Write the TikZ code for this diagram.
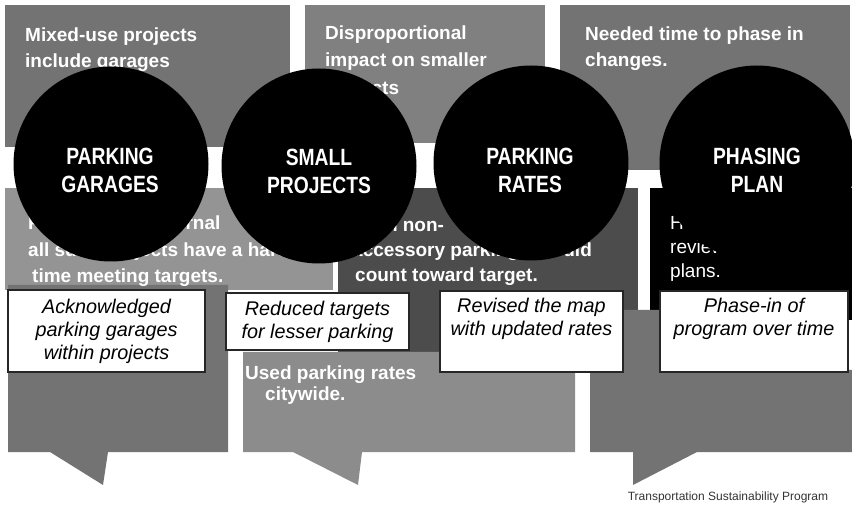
\documentclass[tikz,border=0pt]{standalone}
\usepackage{fontspec}
\setmainfont{Liberation Sans}
\newfontfamily\condfont{Liberation Sans}[FakeStretch=0.82]
\begin{document}
\begin{tikzpicture}[x=1pt,y=-1pt,
  ptext/.style={text=white, anchor=base west, inner sep=0pt, font=\bfseries\fontsize{19}{24}\selectfont},
  mtext/.style={text=white, anchor=base west, inner sep=0pt, font=\fontsize{19}{24}\selectfont},
  disc/.style={circle, fill=black, minimum size=195pt, inner sep=0pt},
  disctext/.style={text=white, align=center, inner sep=0pt, font=\condfont\bfseries\fontsize{23.5}{28}\selectfont},
  respbox/.style={draw=black!85, line width=1.1pt, fill=white, inner sep=0pt},
  resptext/.style={align=center, inner sep=0pt, font=\itshape\fontsize{19.8}{23}\selectfont},
  foot/.style={inner sep=0pt, anchor=base, font=\fontsize{12}{14}\selectfont, text=black!80}
]
\useasboundingbox (0,0) rectangle (852,521);
\clip (0,0) rectangle (852,521);

% ---- background panels ----
\fill[black!55] (5,5) rectangle (290,147);     % top 1
\fill[black!50] (305,5) rectangle (545,143);   % top 2
\fill[black!55] (560,5) rectangle (850,170);   % top 3
\fill[black!42] (5,188) rectangle (333,290);   % middle 1
\fill[black!70] (338,188) rectangle (638,352); % middle 2
\fill[black] (650,188) rectangle (852,320);    % middle 3
\fill[black!55] (8,285) -- (228,285) -- (228,452) -- (108,452) -- (103,485) -- (50,452) -- (8,452) -- cycle;
\fill[black!45] (243,352) -- (575,352) -- (575,452) -- (362,452) -- (358,485) -- (293,452) -- (243,452) -- cycle;
\fill[black!55] (623,310) -- (660,310) -- (660,370) -- (852,370) -- (852,452) -- (697,452) -- (633,485) -- (633,452) -- (590,452) -- (590,370) -- (623,370) -- cycle;

% ---- panel texts ----
\node[ptext] (p1a) at (25,42) {Mixed-use projects};
\node[ptext] (p1b) at (25,68) {include garages};
\node[ptext] (p2a) at (325,40) {Disproportional};
\node[ptext] (p2b) at (325,67) {impact on smaller};
\node[ptext] (p2c) at (325,95) {projects};
\node[ptext] (p3a) at (585,41) {Needed time to phase in};
\node[ptext] (p3b) at (585,67) {changes.};

\node[ptext] (m1a) at (28,230) {Projects with internal};
\node[ptext] (m1b) at (28,257) {all such projects have a hard};
\node[ptext] (m1c) at (32,283) {time meeting targets.};
\node[ptext] (m2a) at (352,232) {Even non-};
\node[ptext] (m2b) at (352,257) {accessory parking lots did};
\node[ptext] (m2c) at (355,282) {count toward  target.};
\node[mtext] (m3a) at (670,230) {Hard for staff to};
\node[mtext] (m3b) at (670,254) {review the new};
\node[mtext] (m3c) at (670,278) {plans.};
\node[ptext] (l2a) at (245,380) {Used parking rates};
\node[ptext] (l2b) at (265,401) {citywide.};

% ---- circles ----
\node[disc] (c1) at (111,164) {};
\node[disc] (c2) at (319,166) {};
\node[disc] (c3) at (531,163) {};
\node[disc] (c4) at (757,163) {};
\node[disctext] (t1) at (110,170) {PARKING\\GARAGES};
\node[disctext] (t2) at (319,171) {SMALL\\PROJECTS};
\node[disctext] (t3) at (530,170) {PARKING\\RATES};
\node[disctext] (t4) at (757,170) {PHASING\\PLAN};

% ---- response boxes ----
\node[respbox, minimum width=197pt, minimum height=82pt] (b1) at (106.5,331) {};
\node[respbox, minimum width=183pt, minimum height=57pt] (b2) at (317.5,321.5) {};
\node[respbox, minimum width=183pt, minimum height=81pt] (b3) at (531.5,331.5) {};
\node[respbox, minimum width=188pt, minimum height=81pt] (b4) at (754,331.5) {};
\node[resptext] (r1) at (b1) {Acknowledged\\parking garages\\within projects};
\node[resptext] (r2) at (b2) {Reduced targets\\for lesser parking};
\node[resptext] (r3) at (531.5,319) {Revised the map\\with updated rates};
\node[resptext] (r4) at (754,319) {Phase-in of\\program over time};

% ---- footer ----
\node[foot] (ft) at (728,500) {Transportation Sustainability Program};
\end{tikzpicture}
\end{document}
